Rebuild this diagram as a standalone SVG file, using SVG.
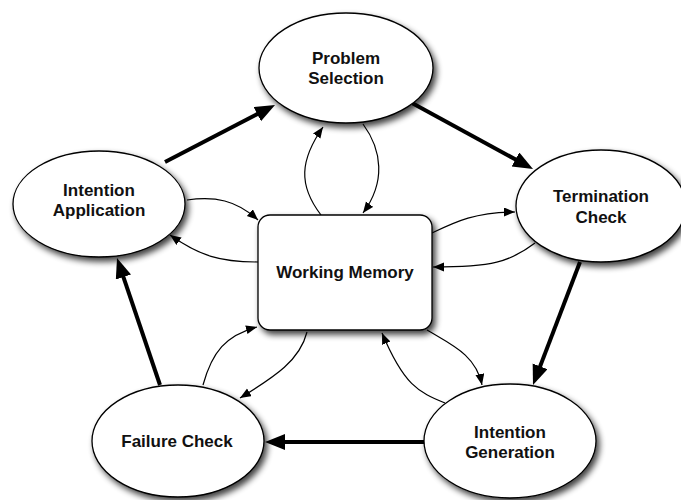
<svg xmlns="http://www.w3.org/2000/svg" width="681" height="500" viewBox="0 0 681 500">
  <style>
    .node { fill: #ffffff; stroke: #000000; stroke-width: 1.3; filter: url(#shadow); }
    .label { font-family: "Liberation Sans", Arial, Helvetica, sans-serif; font-weight: bold; font-size: 17px; fill: #111111; text-anchor: middle; }
    .thick { fill: none; stroke: #000000; stroke-width: 4; marker-end: url(#bigHead); }
    .thin { fill: none; stroke: #000000; stroke-width: 1.2; marker-end: url(#smallHead); }
  </style>
  <defs>
    <filter id="shadow" x="-20%" y="-20%" width="150%" height="150%">
      <feGaussianBlur in="SourceAlpha" stdDeviation="3"/>
      <feOffset dx="3" dy="4" result="blur"/>
      <feComponentTransfer><feFuncA type="linear" slope="0.75"/></feComponentTransfer>
      <feMerge><feMergeNode/><feMergeNode in="SourceGraphic"/></feMerge>
    </filter>
    <marker id="bigHead" markerUnits="userSpaceOnUse" markerWidth="22" markerHeight="18" refX="6" refY="8" orient="auto">
      <path d="M0,0 L20,8 L0,16 z" fill="#000"/>
    </marker>
    <marker id="smallHead" markerUnits="userSpaceOnUse" markerWidth="13" markerHeight="10" refX="11" refY="4.5" orient="auto">
      <path d="M0,0 L11,4.5 L0,9 z" fill="#000"/>
    </marker>
  </defs>

  <g id="connectors">
    <!-- main cycle -->
    <path class="thick" d="M165,162 L262.6,111.4"/>
    <path class="thick" d="M412,103 L520.7,162.3"/>
    <path class="thick" d="M580,262 L538,371.9"/>
    <path class="thick" d="M425,442 L279,442"/>
    <path class="thick" d="M160,385 L121.5,271.3"/>
    <!-- working memory exchanges -->
    <path class="thin" d="M321,215 C298,185 300,160 323,127"/>
    <path class="thin" d="M363,124 C382,150 386,182 363,213"/>
    <path class="thin" d="M187,200 C215,196 236,200 258,220"/>
    <path class="thin" d="M258,262 C220,262 200,256 170,235"/>
    <path class="thin" d="M432,233 C455,222 475,212 515,212"/>
    <path class="thin" d="M535,243 C510,262 492,267 433,267"/>
    <path class="thin" d="M203,385 C212,352 226,335 257,327"/>
    <path class="thin" d="M307,332 C300,360 276,376 240,398"/>
    <path class="thin" d="M427,330 C452,345 476,355 482,385"/>
    <path class="thin" d="M445,403 C418,392 404,385 382,333"/>
  </g>

  <g id="working-memory">
    <rect class="node" x="258" y="215" width="174" height="115" rx="12" ry="12"/>
    <text class="label" x="345" y="278">Working Memory</text>
  </g>

  <g id="problem-selection">
    <ellipse class="node" cx="346" cy="68" rx="87" ry="55"/>
    <text class="label" x="346" y="64">Problem</text>
    <text class="label" x="346" y="84">Selection</text>
  </g>

  <g id="termination-check">
    <ellipse class="node" cx="601" cy="206" rx="85" ry="56"/>
    <text class="label" x="601" y="202">Termination</text>
    <text class="label" x="601" y="223">Check</text>
  </g>

  <g id="intention-generation">
    <ellipse class="node" cx="510" cy="441" rx="86" ry="57"/>
    <text class="label" x="510" y="438">Intention</text>
    <text class="label" x="510" y="458">Generation</text>
  </g>

  <g id="failure-check">
    <ellipse class="node" cx="178" cy="441" rx="86" ry="56"/>
    <text class="label" x="177" y="447">Failure Check</text>
  </g>

  <g id="intention-application">
    <ellipse class="node" cx="99" cy="204" rx="86" ry="53"/>
    <text class="label" x="99" y="196">Intention</text>
    <text class="label" x="99" y="216">Application</text>
  </g>
</svg>
